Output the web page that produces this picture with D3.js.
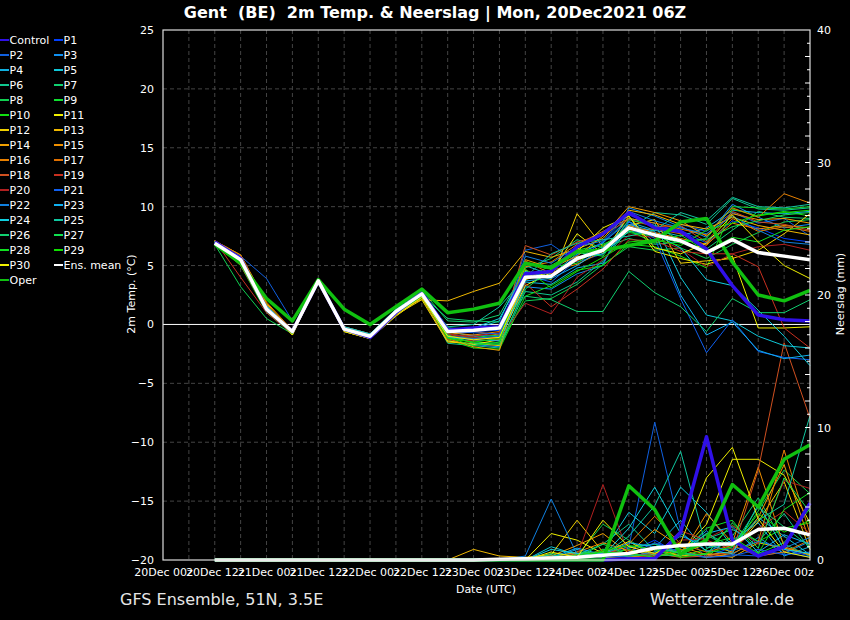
<!DOCTYPE html>
<html>
<head>
<meta charset="utf-8">
<script src="https://cdn.jsdelivr.net/npm/d3@7"></script>
<style>
  html, body { margin: 0; padding: 0; background: #000; }
  svg { display: block; font-family: "DejaVu Sans", sans-serif; }
  text { fill: #fff; }
</style>
</head>
<body>
<div id="chart"></div>
<script>
// forecast hours since 20Dec 00z
const hours = [12, 18, 24, 30, 36, 42, 48, 54, 60, 66, 72, 78, 84, 90, 96, 102, 108, 114, 120, 126, 132, 138, 144, 150]
const tickHours = [0, 12, 24, 36, 48, 60, 72, 84, 96, 108, 120, 132, 144]
const tickLabels = ['20Dec 00z', '20Dec 12z', '21Dec 00z', '21Dec 12z', '22Dec 00z', '22Dec 12z', '23Dec 00z', '23Dec 12z', '24Dec 00z', '24Dec 12z', '25Dec 00z', '25Dec 12z', '26Dec 00z']
const tempTicks = [25, 20, 15, 10, 5, 0, -5, -10, -15, -20]
const precTicks = [40, 30, 20, 10, 0]

const members = ['Control', 'P1', 'P2', 'P3', 'P4', 'P5', 'P6', 'P7', 'P8', 'P9', 'P10', 'P11', 'P12', 'P13', 'P14', 'P15', 'P16', 'P17', 'P18', 'P19', 'P20', 'P21', 'P22', 'P23', 'P24', 'P25', 'P26', 'P27', 'P28', 'P29', 'P30']
const memberColors = ['#3010e8', '#0040ff', '#1060e0', '#1090f0', '#10b0e0', '#10c8d8', '#10c890', '#10d070', '#10d050', '#10e030', '#10e010', '#f0f000', '#f0d000', '#f0b800', '#f0a000', '#f09000', '#e88000', '#e07000', '#d05020', '#c83020', '#b02020', '#1060f0', '#1080e0', '#10b0f0', '#10d0e0', '#10c8a0', '#10d070', '#10e050', '#10e020', '#10e000', '#f0f000']

// 2m temperature (°C), one row per member
const temp = [
  [7.0, 5.6, 1.3, -0.6, 3.7, -0.4, -1.1, 1.0, 2.7, -0.5, -0.3, -0.2, 4.3, 4.5, 6.6, 7.7, 9.5, 8.2, 7.9, 6.4, 3.3, 0.8, 0.4, 0.3],
  [7.0, 5.5, 1.5, -0.7, 3.8, -0.3, -0.9, 1.1, 2.6, -0.9, -0.6, -0.5, 4.4, 4.0, 5.9, 7.0, 9.3, 8.4, 8.0, 6.9, 8.8, 8.2, 7.3, 7.0],
  [7.0, 5.8, 3.9, 0.3, 3.7, -0.5, -1.0, 0.9, 2.5, -1.2, -0.9, -1.0, 6.3, 6.8, 5.3, 6.0, 8.8, 7.0, 8.5, 7.9, 9.5, 8.6, 9.0, 7.5],
  [6.9, 5.4, 1.2, -0.8, 3.6, -0.4, -1.1, 1.0, 2.4, -1.4, -1.7, -1.9, 3.2, 3.0, 4.3, 5.0, 9.9, 9.2, 8.3, 7.4, 10.2, 9.1, 8.2, 8.5],
  [7.0, 5.3, 1.3, -0.6, 3.7, -0.3, -0.9, 1.2, 2.7, -0.6, -1.0, -1.4, 3.6, 3.4, 4.8, 5.2, 8.7, 8.0, 7.5, 8.2, 9.7, 9.5, 9.4, 9.6],
  [7.0, 5.5, 1.4, -0.7, 3.8, -0.2, -0.8, 1.3, 2.8, -0.3, -0.4, 0.3, 5.0, 4.2, 6.0, 6.9, 9.0, 8.6, 4.0, 0.8, 0.3, -1.0, -1.8, -2.0],
  [6.9, 5.1, 1.6, -0.5, 3.9, -0.5, -1.0, 0.8, 2.5, -1.6, -1.8, -2.0, 2.8, 2.5, 3.6, 5.4, 8.1, 9.5, 9.3, 8.5, 10.7, 9.8, 9.7, 9.9],
  [7.0, 5.2, 1.1, -0.7, 3.6, -0.3, -0.9, 1.1, 2.9, 0.3, 0.2, 0.8, 4.8, 5.6, 7.2, 6.5, 7.3, 6.8, 7.0, 6.4, 8.0, 9.6, 9.1, 9.0],
  [6.8, 3.2, 0.5, -0.8, 3.7, -0.4, -1.1, 1.0, 2.6, -1.1, -1.5, -1.6, 2.0, 2.2, 3.4, 5.1, 6.6, 6.3, 6.5, 5.6, 6.8, 7.8, 8.7, 8.9],
  [7.0, 5.6, 1.3, -0.6, 3.8, -0.4, -1.0, 1.0, 2.4, -0.8, -1.1, -0.9, 3.9, 5.0, 6.3, 6.8, 7.8, 7.5, 6.9, 7.3, 10.0, 9.9, 9.8, 10.0],
  [6.9, 5.0, 1.0, -0.8, 3.7, -0.5, -1.2, 0.9, 2.2, -1.3, -2.0, -2.1, 2.4, 3.3, 4.6, 5.0, 6.8, 6.6, 5.8, 4.8, 9.8, 9.2, 9.6, 9.2],
  [7.1, 5.7, 1.5, -0.9, 3.6, -0.6, -1.2, 0.7, 2.3, -1.4, -1.7, -1.3, 3.3, 4.4, 7.7, 6.0, 9.2, 6.2, 5.6, 5.1, 5.8, -0.3, -0.3, -0.2],
  [7.0, 5.4, 1.2, -0.7, 3.5, -0.6, -1.2, 0.8, 2.1, -1.5, -1.6, -1.8, 4.6, 3.8, 9.4, 6.6, 8.4, 8.9, 5.2, 5.4, 5.6, 6.3, 7.7, 9.4],
  [7.1, 5.9, 1.8, -0.6, 3.7, -0.2, -0.9, 1.2, 2.1, 2.0, 2.8, 3.5, 6.2, 5.7, 6.4, 7.3, 9.7, 9.3, 8.5, 8.1, 9.1, 8.4, 8.0, 7.6],
  [7.0, 5.6, 1.6, -0.8, 3.6, -0.5, -1.1, 0.9, 2.4, -1.2, -1.9, -2.2, 5.5, 4.8, 5.8, 7.5, 10.0, 9.5, 8.8, 7.5, 9.4, 8.9, 9.0, 8.6],
  [7.0, 5.7, 1.7, -0.7, 3.8, -0.3, -1.0, 1.1, 2.7, -0.7, -0.9, -0.6, 4.1, 4.6, 5.1, 6.2, 8.4, 7.8, 7.3, 6.8, 8.6, 8.1, 8.4, 8.2],
  [7.1, 5.9, 1.9, -0.5, 3.7, -0.4, -0.9, 1.0, 2.5, -1.0, -1.2, -1.1, 4.9, 5.3, 6.8, 7.9, 9.0, 8.6, 8.1, 7.6, 9.9, 9.1, 11.1, 10.3],
  [7.0, 5.3, 1.4, -0.6, 3.7, -0.2, -0.8, 1.2, 2.8, -0.5, -0.6, -0.9, 5.4, 4.3, 5.4, 6.4, 8.0, 8.1, 7.7, 6.7, 9.0, 7.9, 8.3, 7.9],
  [7.1, 5.0, 1.2, -0.7, 3.6, -0.4, -1.0, 0.8, 2.3, -1.3, -1.4, -1.3, 6.7, 5.9, 7.0, 7.6, 8.9, 8.3, 8.4, 7.0, 9.6, 8.7, 8.5, 8.0],
  [7.1, 4.0, 1.0, -0.8, 3.7, -0.3, -1.0, 0.9, 2.6, -0.9, -1.0, -0.7, 3.5, 1.5, 3.0, 4.7, 7.2, 7.1, 6.2, 6.0, 6.0, 4.9, -0.3, -2.0],
  [6.9, 5.2, 1.3, -0.7, 3.7, -0.4, -1.1, 1.0, 2.5, -0.8, -1.1, -1.2, 1.8, 0.9, 4.0, 5.5, 7.6, 7.4, 6.4, 4.9, 6.0, 6.6, 6.8, 6.3],
  [7.0, 5.5, 1.4, -0.6, 3.8, -0.4, -1.0, 1.1, 2.7, -0.6, -0.7, -0.8, 4.2, 3.6, 5.5, 7.0, 8.7, 7.3, 2.2, -2.4, 0.4, -2.3, -2.8, -3.0],
  [7.0, 5.4, 1.5, -0.7, 3.7, -0.3, -0.9, 1.0, 2.6, -1.0, -1.2, -1.0, 5.8, 5.2, 6.6, 7.1, 9.6, 8.8, 8.2, 7.7, 9.2, 8.0, 7.0, 6.8],
  [6.9, 5.3, 1.3, -0.7, 3.6, -0.5, -1.1, 0.9, 2.4, -1.1, -1.3, -1.4, 3.7, 3.9, 5.0, 6.5, 8.5, 7.9, 2.5, -0.9, 0.2, -2.2, -2.9, -2.6],
  [7.0, 5.5, 1.6, -0.6, 3.9, -0.2, -0.8, 1.2, 2.8, -0.4, -0.3, 0.5, 4.5, 4.0, 5.7, 6.0, 7.9, 7.7, 6.5, 3.8, 3.3, 1.2, -1.0, -3.5],
  [7.0, 5.6, 1.5, -0.7, 3.7, -0.4, -1.0, 1.0, 2.6, -0.2, 0.0, 1.5, 4.0, 6.0, 6.9, 7.2, 7.5, 8.0, 9.5, 8.8, 10.8, 10.0, 9.9, 10.2],
  [6.9, 5.1, 1.2, -0.8, 3.8, -0.5, -1.1, 0.9, 2.5, 0.5, 0.3, 0.2, 2.4, 2.1, 1.1, 1.1, 4.5, 2.7, 1.5, -0.6, 2.2, 1.0, 1.0, 2.1],
  [7.0, 5.4, 1.4, -0.7, 3.7, -0.3, -1.0, 1.1, 2.7, -0.9, -1.6, -1.7, 3.0, 4.7, 6.1, 5.8, 8.9, 8.4, 7.1, 7.2, 8.3, 8.8, 9.3, 9.5],
  [7.0, 5.3, 1.3, -0.6, 3.6, -0.4, -1.0, 1.0, 2.5, -1.1, -1.8, -1.5, 5.2, 4.9, 5.2, 6.7, 8.0, 6.9, 7.6, 6.2, 7.4, 7.0, 8.0, 8.3],
  [6.9, 5.2, 1.2, -0.8, 3.8, -0.5, -1.1, 0.9, 2.4, -1.2, -1.5, -1.2, 4.7, 3.1, 4.5, 5.7, 7.0, 7.2, 6.7, 8.0, 8.6, 9.3, 9.5, 9.7],
  [7.0, 5.5, 1.5, -0.9, 3.6, -0.6, -1.2, 0.8, 2.3, -1.0, -1.3, -1.1, 3.8, 4.5, 6.2, 8.2, 9.2, 6.5, 6.0, 6.9, 9.3, 7.0, 5.0, 3.9]
]

// precipitation (mm), one row per member
const prec = [
  [0, 0, 0, 0, 0, 0, 0, 0, 0, 0, 0, 0, 0, 0, 0, 0, 0.1, 0.1, 2.1, 9.3, 1.5, 0.3, 1.0, 4.3],
  [0, 0, 0, 0, 0, 0, 0, 0, 0, 0, 0, 0, 0, 0, 0.2, 0.3, 0.6, 1.5, 0.4, 0.2, 1.0, 0.5, 0.8, 0.3],
  [0, 0, 0, 0, 0, 0, 0, 0, 0, 0, 0, 0, 0, 0, 0.1, 0.4, 1.0, 10.4, 2.2, 0.2, 0.4, 0.3, 0.6, 0.2],
  [0, 0, 0, 0, 0, 0, 0, 0, 0, 0, 0, 0, 0, 0.3, 0.5, 0.2, 0.9, 1.2, 0.6, 2.2, 0.4, 1.7, 0.5, 1.4],
  [0, 0, 0, 0, 0, 0, 0, 0, 0, 0, 0, 0, 0, 0.1, 0.8, 0.3, 0.5, 0.9, 3.0, 0.6, 1.5, 2.8, 0.3, 1.0],
  [0, 0, 0, 0, 0, 0, 0, 0, 0, 0, 0, 0, 0, 1.0, 0.4, 0.6, 3.6, 2.0, 5.5, 3.6, 1.0, 3.2, 1.8, 0.4],
  [0, 0, 0, 0, 0, 0, 0, 0, 0, 0, 0, 0, 0, 0, 0.4, 1.2, 2.7, 0.7, 0.3, 1.6, 2.3, 1.4, 3.5, 0.8],
  [0, 0, 0, 0, 0, 0, 0, 0, 0, 0, 0, 0, 0, 0.2, 0.6, 0.5, 1.0, 1.2, 0.5, 0.2, 1.8, 4.7, 1.2, 0.3],
  [0, 0, 0, 0, 0, 0, 0, 0, 0, 0, 0, 0, 0, 0.5, 0.3, 2.7, 1.5, 0.4, 0.9, 1.9, 0.8, 3.7, 6.8, 5.0],
  [0, 0, 0, 0, 0, 0, 0, 0, 0, 0, 0, 0, 0, 0, 0.2, 0.8, 0.2, 0.6, 0.4, 2.4, 3.0, 0.5, 1.3, 3.9],
  [0, 0, 0, 0, 0, 0, 0, 0, 0, 0, 0, 0, 0, 0, 0.1, 0.4, 0.8, 0.4, 0.3, 0.8, 2.6, 1.4, 2.4, 2.8],
  [0, 0, 0, 0, 0, 0, 0, 0, 0, 0, 0, 0, 0, 2.0, 1.5, 0.5, 1.4, 0.3, 0.6, 2.7, 7.6, 7.6, 6.4, 2.8],
  [0, 0, 0, 0, 0, 0, 0, 0, 0, 0, 0, 0, 0.2, 0.4, 3.0, 0.6, 0.3, 1.0, 0.5, 1.2, 0.6, 2.9, 5.9, 0.8],
  [0, 0, 0, 0, 0, 0, 0, 0, 0, 0, 0.8, 0.3, 0.2, 0.1, 0.4, 0.2, 0.1, 0.8, 0.3, 0.5, 0.2, 1.3, 0.9, 0.4],
  [0, 0, 0, 0, 0, 0, 0, 0, 0, 0, 0, 0, 0, 0.3, 1.1, 2.0, 0.5, 2.3, 1.0, 0.4, 0.6, 3.2, 7.2, 1.3],
  [0, 0, 0, 0, 0, 0, 0, 0, 0, 0, 0, 0, 0, 0.2, 0.6, 1.3, 0.7, 0.4, 0.3, 3.5, 1.3, 7.0, 1.0, 0.4],
  [0, 0, 0, 0, 0, 0, 0, 0, 0, 0, 0, 0, 0, 0, 0.2, 0.5, 0.3, 0.2, 0.8, 0.2, 0.5, 1.4, 8.3, 2.0],
  [0, 0, 0, 0, 0, 0, 0, 0, 0, 0, 0, 0, 0, 0, 0.5, 0.3, 1.2, 3.3, 1.2, 0.6, 1.1, 0.3, 0.6, 1.5],
  [0, 0, 0, 0, 0, 0, 0, 0, 0, 0, 0, 0, 0, 0, 0.2, 0.4, 0.3, 0.5, 0.2, 0.3, 0.6, 6.8, 16.4, 10.7],
  [0, 0, 0, 0, 0, 0, 0, 0, 0, 0, 0, 0, 0, 0, 0.3, 0.7, 0.5, 0.3, 2.2, 1.5, 0.8, 2.4, 3.7, 2.0],
  [0, 0, 0, 0, 0, 0, 0, 0, 0, 0, 0, 0, 0, 0, 0.3, 5.7, 0.4, 0.2, 1.5, 1.6, 2.6, 1.2, 6.0, 5.4],
  [0, 0, 0, 0, 0, 0, 0, 0, 0, 0, 0, 0, 0, 0.1, 0.2, 0.5, 0.4, 1.3, 0.6, 0.2, 0.3, 0.8, 0.4, 0.6],
  [0, 0, 0, 0, 0, 0, 0, 0, 0, 0, 0, 0, 0.3, 4.6, 0.4, 0.2, 0.3, 0.6, 1.8, 1.1, 0.7, 1.4, 0.9, 1.7],
  [0, 0, 0, 0, 0, 0, 0, 0, 0, 0, 0, 0, 0, 0.2, 0.9, 0.4, 1.3, 1.0, 0.5, 2.0, 2.5, 0.6, 1.9, 1.2],
  [0, 0, 0, 0, 0, 0, 0, 0, 0, 0, 0, 0, 0, 0.8, 0.5, 0.3, 2.4, 5.5, 2.0, 0.7, 0.5, 4.2, 0.8, 0.5],
  [0, 0, 0, 0, 0, 0, 0, 0, 0, 0, 0, 0, 0, 0.4, 0.1, 0.3, 1.8, 4.1, 8.2, 0.9, 1.3, 3.0, 4.2, 10.9],
  [0, 0, 0, 0, 0, 0, 0, 0, 0, 0, 0, 0, 0, 0, 0.2, 0.6, 0.3, 0.4, 0.3, 2.0, 1.0, 4.0, 2.5, 1.0],
  [0, 0, 0, 0, 0, 0, 0, 0, 0, 0, 0, 0, 0, 0, 0.2, 1.2, 0.4, 0.9, 0.5, 0.4, 2.8, 0.9, 6.2, 3.6],
  [0, 0, 0, 0, 0, 0, 0, 0, 0, 0, 0, 0, 0, 0, 0.4, 0.6, 0.5, 0.2, 0.7, 1.2, 1.7, 0.5, 3.8, 5.1],
  [0, 0, 0, 0, 0, 0, 0, 0, 0, 0, 0, 0, 0, 0, 0.1, 0.7, 1.1, 0.8, 0.2, 0.5, 1.0, 3.5, 2.1, 3.0],
  [0, 0, 0, 0, 0, 0, 0, 0, 0, 0, 0, 0, 0, 0.6, 0.2, 3.0, 1.0, 0.5, 1.3, 6.2, 8.5, 3.1, 0.6, 0.2]
]

const operTemp = [6.8, 5.2, 2.2, 0.3, 3.8, 1.3, 0.0, 1.5, 3.0, 1.0, 1.3, 1.8, 5.2, 4.8, 6.2, 6.3, 6.7, 7.1, 8.7, 9.0, 5.3, 2.5, 2.0, 2.9]
const operPrec = [0, 0, 0, 0, 0, 0, 0, 0, 0, 0, 0, 0, 0, 0, 0, 0, 5.6, 3.8, 0.45, 1.5, 5.7, 4.0, 7.6, 8.7]
const meanTemp = [6.9, 5.5, 1.3, -0.6, 3.7, -0.4, -1.0, 1.1, 2.6, -0.6, -0.5, -0.3, 4.0, 4.1, 5.6, 6.3, 8.2, 7.6, 7.1, 6.1, 7.2, 6.1, 5.8, 5.5]
const meanPrec = [0, 0, 0, 0, 0, 0, 0, 0, 0, 0, 0, 0.05, 0.1, 0.15, 0.2, 0.35, 0.5, 0.9, 1.1, 1.2, 1.2, 2.3, 2.4, 1.9]

const W = 850, H = 620
const pLeft = 163, pRight = 810, pTop = 30, pBottom = 560

const svg = d3.select('#chart').append('svg')
  .attr('width', W)
  .attr('height', H)
  .style('background', '#000')

const x = d3.scaleLinear().domain([0, 150]).range([pLeft, pRight])
const yT = d3.scaleLinear().domain([-20, 25]).range([pBottom, pTop])
const yP = d3.scaleLinear().domain([0, 40]).range([pBottom, pTop])

// grid
const grid = svg.append('g').attr('stroke', '#444').attr('stroke-dasharray', '4,3')
grid.selectAll('line.v')
  .data(d3.range(6, 150, 6))
  .enter().append('line')
  .attr('x1', d => x(d)).attr('x2', d => x(d))
  .attr('y1', pTop).attr('y2', pBottom)
grid.selectAll('line.h')
  .data([20, 15, 10, 5, -5, -10, -15])
  .enter().append('line')
  .attr('x1', pLeft).attr('x2', pRight)
  .attr('y1', d => yT(d)).attr('y2', d => yT(d))

// zero line
svg.append('line')
  .attr('x1', pLeft).attr('x2', pRight)
  .attr('y1', yT(0)).attr('y2', yT(0))
  .attr('stroke', '#fff').attr('stroke-width', 1)

const lineT = d3.line().x((d, i) => x(hours[i])).y(d => yT(d))
const lineP = d3.line().x((d, i) => x(hours[i])).y(d => yP(d))

const plot = svg.append('g')
  .attr('fill', 'none')
  .attr('stroke-linejoin', 'round')

// thin members: precipitation then temperature (Control drawn thick later)
members.forEach((m, k) => {
  if (k === 0) return
  plot.append('path').attr('d', lineP(prec[k])).attr('stroke', memberColors[k]).attr('stroke-width', 1)
})
members.forEach((m, k) => {
  if (k === 0) return
  plot.append('path').attr('d', lineT(temp[k])).attr('stroke', memberColors[k]).attr('stroke-width', 1)
})

// thick lines
plot.append('path').attr('d', lineP(prec[0])).attr('stroke', memberColors[0]).attr('stroke-width', 3.5)
plot.append('path').attr('d', lineT(temp[0])).attr('stroke', memberColors[0]).attr('stroke-width', 3.5)
plot.append('path').attr('d', lineP(operPrec)).attr('stroke', '#10c010').attr('stroke-width', 3.5)
plot.append('path').attr('d', lineT(operTemp)).attr('stroke', '#10c010').attr('stroke-width', 3.5)
plot.append('path').attr('d', lineP(meanPrec)).attr('stroke', '#fff').attr('stroke-width', 3.5)
plot.append('path').attr('d', lineT(meanTemp)).attr('stroke', '#fff').attr('stroke-width', 3.5)

// frame
svg.append('rect')
  .attr('x', pLeft).attr('y', pTop)
  .attr('width', pRight - pLeft).attr('height', pBottom - pTop)
  .attr('fill', 'none').attr('stroke', '#ddd').attr('stroke-width', 1.2)

// right axis minor ticks (inward)
svg.append('g').selectAll('line')
  .data(d3.range(1, 40))
  .enter().append('line')
  .attr('x1', d => pRight - (d % 2 === 0 ? 5 : 3)).attr('x2', pRight)
  .attr('y1', d => yP(d)).attr('y2', d => yP(d))
  .attr('stroke', '#fff')

// axes labels
const axL = svg.append('g')
  .attr('transform', `translate(${pLeft},0)`)
  .call(d3.axisLeft(yT).tickValues(tempTicks).tickSize(0).tickPadding(9))
const axR = svg.append('g')
  .attr('transform', `translate(${pRight},0)`)
  .call(d3.axisRight(yP).tickValues(precTicks).tickSize(0).tickPadding(7))
const axB = svg.append('g')
  .attr('transform', `translate(0,${pBottom})`)
  .call(d3.axisBottom(x).tickValues(tickHours).tickFormat((d, i) => tickLabels[i]).tickSize(0).tickPadding(8))
;[axL, axR, axB].forEach(a => {
  a.select('.domain').remove()
  a.selectAll('text').attr('fill', '#fff').style('font-size', '11px').style('font-family', 'DejaVu Sans')
})

svg.append('text')
  .attr('transform', 'translate(135,294) rotate(-90)')
  .attr('text-anchor', 'middle')
  .style('font-size', '11px')
  .text('2m Temp. (°C)')
svg.append('text')
  .attr('transform', 'translate(844,294) rotate(-90)')
  .attr('text-anchor', 'middle')
  .style('font-size', '11px')
  .text('Neerslag (mm)')
svg.append('text')
  .attr('x', 486).attr('y', 593)
  .attr('text-anchor', 'middle')
  .style('font-size', '11px')
  .text('Date (UTC)')

// title & footer
svg.append('text')
  .attr('x', 435).attr('y', 18)
  .attr('text-anchor', 'middle')
  .style('font-size', '16px').style('font-weight', 'bold')
  .style('white-space', 'pre')
  .text('Gent  (BE)  2m Temp. & Neerslag | Mon, 20Dec2021 06Z')
svg.append('text')
  .attr('x', 120).attr('y', 605)
  .style('font-size', '16px').style('fill', '#e6e6e6')
  .text('GFS Ensemble, 51N, 3.5E')
svg.append('text')
  .attr('x', 794).attr('y', 605)
  .attr('text-anchor', 'end')
  .style('font-size', '16px').style('fill', '#e6e6e6')
  .text('Wetterzentrale.de')

// legend
const legendItems = members.map((m, k) => ({ name: m, color: memberColors[k] }))
  .concat([{ name: 'Ens. mean', color: '#fff' }, { name: 'Oper', color: '#10c010' }])
const leg = svg.append('g')
legendItems.forEach((d, k) => {
  const col = k === 32 ? 0 : k % 2
  const row = k === 32 ? 16 : Math.floor(k / 2)
  const lx = col === 0 ? 0 : 54
  const ly = 40 + row * 15
  leg.append('line')
    .attr('x1', lx).attr('x2', lx + 9)
    .attr('y1', ly).attr('y2', ly)
    .attr('stroke', d.color).attr('stroke-width', 2)
  leg.append('text')
    .attr('x', lx + 9.5).attr('y', ly + 4)
    .style('font-size', '11px')
    .text(d.name)
})
</script>
</body>
</html>
